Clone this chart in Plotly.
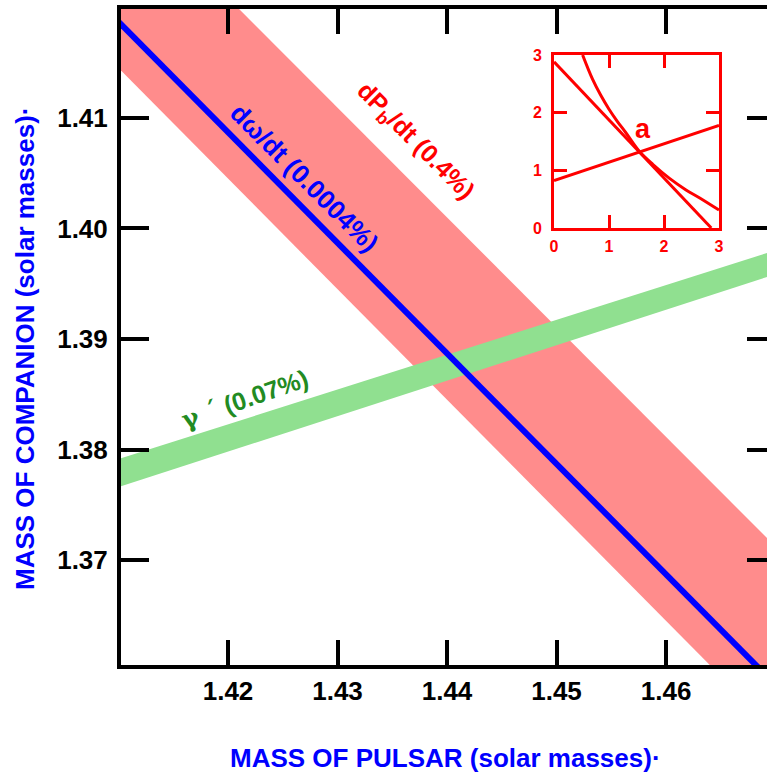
import plotly.graph_objects as go

# ---------------- data ----------------
x_ticks = [1.42, 1.43, 1.44, 1.45, 1.46]
y_ticks = [1.37, 1.38, 1.39, 1.40, 1.41]

# d(omega)/dt line
omega_x = [1.405, 1.475]
omega_y = [1.4237, 1.3537]

# dPb/dt band edges
pb_upper_x = [1.405, 1.475]
pb_upper_y = [1.43576, 1.36625]
pb_lower_x = [1.405, 1.475]
pb_lower_y = [1.41952, 1.34949]

# gamma band edges
gam_upper_x = [1.405, 1.475]
gam_upper_y = [1.37755, 1.39960]
gam_lower_x = [1.405, 1.475]
gam_lower_y = [1.37499, 1.39747]

# inset
inset_ticks = [0, 1, 2, 3]
inset_omega_x = [0.0, 2.86]
inset_omega_y = [2.88, 0.0]
inset_gamma_x = [0.0, 3.0]
inset_gamma_y = [0.82, 1.78]
inset_pb_x = [0.52, 0.7, 0.85, 1.0, 1.15, 1.3, 1.55, 1.8, 2.1, 2.4, 2.65, 3.0]
inset_pb_y = [3.0, 2.58, 2.3, 2.06, 1.85, 1.66, 1.33, 1.1, 0.86, 0.66, 0.52, 0.31]

FONT = "Liberation Sans"
PINK = "#FF8C8C"
GREEN = "#90E090"
BLUE = "#0000FF"
RED = "#FF0000"
DKGREEN = "#228B22"

fig = go.Figure()

fig.add_trace(go.Scatter(
    x=pb_upper_x + pb_lower_x[::-1], y=pb_upper_y + pb_lower_y[::-1],
    fill="toself", fillcolor=PINK, mode="lines", line=dict(width=0),
    hoverinfo="skip", showlegend=False))
fig.add_trace(go.Scatter(
    x=gam_upper_x + gam_lower_x[::-1], y=gam_upper_y + gam_lower_y[::-1],
    fill="toself", fillcolor=GREEN, mode="lines", line=dict(width=0),
    hoverinfo="skip", showlegend=False))
fig.add_trace(go.Scatter(
    x=omega_x, y=omega_y, mode="lines", line=dict(color=BLUE, width=6),
    hoverinfo="skip", showlegend=False))
# right-side tick holder
fig.add_trace(go.Scatter(x=[None], y=[None], yaxis="y3", mode="lines",
                         showlegend=False, hoverinfo="skip"))

# inset traces
for xs, ys in [(inset_omega_x, inset_omega_y), (inset_gamma_x, inset_gamma_y),
               (inset_pb_x, inset_pb_y)]:
    fig.add_trace(go.Scatter(x=xs, y=ys, xaxis="x2", yaxis="y2", mode="lines",
                             line=dict(color=RED, width=3, shape="spline"),
                             hoverinfo="skip", showlegend=False))

tickfont = dict(family=FONT, size=26, color="black", weight="bold")
inset_font = dict(family=FONT, size=16, color=RED, weight="bold")

fig.update_layout(
    width=767, height=775,
    margin=dict(l=121, r=0, t=9, b=110),
    paper_bgcolor="white", plot_bgcolor="white",
    xaxis=dict(range=[1.41023, 1.46922], tickvals=x_ticks, tickformat=".2f",
               ticks="inside", ticklen=25, tickwidth=4, tickcolor="black",
               showline=True, linewidth=4, linecolor="black", mirror="ticks",
               showgrid=False, zeroline=False, tickfont=tickfont,
               ticklabelstandoff=0, automargin=False),
    yaxis=dict(range=[1.3605, 1.41986], tickvals=y_ticks, tickformat=".2f",
               ticks="inside", ticklen=28, tickwidth=4, tickcolor="black",
               showline=True, linewidth=4, linecolor="black", mirror=False,
               showgrid=False, zeroline=False, tickfont=tickfont,
               ticklabelstandoff=4, automargin=False),
    yaxis3=dict(range=[1.3605, 1.41986], tickvals=y_ticks, overlaying="y",
                side="right", ticks="inside", ticklen=20, tickwidth=4,
                tickcolor="black", showticklabels=False, showline=False,
                showgrid=False, zeroline=False, automargin=False),
    xaxis2=dict(domain=[0.6703, 0.9257], anchor="y2", range=[0, 3],
                tickvals=inset_ticks, ticks="inside", ticklen=13, tickwidth=3,
                tickcolor=RED, showline=True, linewidth=3, linecolor=RED,
                mirror="ticks", showgrid=False, zeroline=False,
                tickfont=inset_font, ticklabelstandoff=2, automargin=False),
    yaxis2=dict(domain=[0.6662, 0.9299], anchor="x2", range=[0, 3],
                tickvals=inset_ticks, ticks="inside", ticklen=13, tickwidth=3,
                tickcolor=RED, showline=True, linewidth=3, linecolor=RED,
                mirror="ticks", showgrid=False, zeroline=False,
                tickfont=inset_font, ticklabelstandoff=6, automargin=False),
)

ann = []
ann.append(dict(x=1.42699, y=1.40457, xref="x", yref="y", showarrow=False,
                text="dω/dt (0.0004%)", textangle=45,
                xanchor="center", yanchor="middle",
                font=dict(family=FONT, size=26, color=BLUE, weight="bold")))
ann.append(dict(x=1.43712, y=1.40783, xref="x", yref="y", showarrow=False,
                text="dP<sub>b</sub>/dt (0.4%)", textangle=45,
                xanchor="center", yanchor="middle",
                font=dict(family=FONT, size=25, color=RED, weight="bold")))
ann.append(dict(x=1.42151, y=1.38448, xref="x", yref="y", showarrow=False,
                text="<span style='font-family:DejaVu Serif'>γ ´</span> (0.07%)",
                textangle=-19, xanchor="center", yanchor="middle",
                font=dict(family=FONT, size=25, color=DKGREEN, weight="bold")))
ann.append(dict(x=1.62, y=1.72, xref="x2", yref="y2", showarrow=False,
                text="a", xanchor="center", yanchor="middle",
                font=dict(family=FONT, size=27, color=RED, weight="bold")))
ann.append(dict(x=0.503, y=-0.1418, xref="paper", yref="paper", showarrow=False,
                text="MASS OF PULSAR (solar masses)·", xanchor="center",
                yanchor="middle",
                font=dict(family=FONT, size=26, color=BLUE, weight="bold")))
ann.append(dict(x=-0.1486, y=0.4832, xref="paper", yref="paper", showarrow=False,
                text="MASS OF COMPANION (solar masses)·", textangle=-90,
                xanchor="center", yanchor="middle",
                font=dict(family=FONT, size=26, color=BLUE, weight="bold")))
fig.update_layout(annotations=ann)

fig.write_html("out.html", config={"displayModeBar": False},
               post_script="document.body.style.margin='0';document.body.style.overflow='hidden';")
